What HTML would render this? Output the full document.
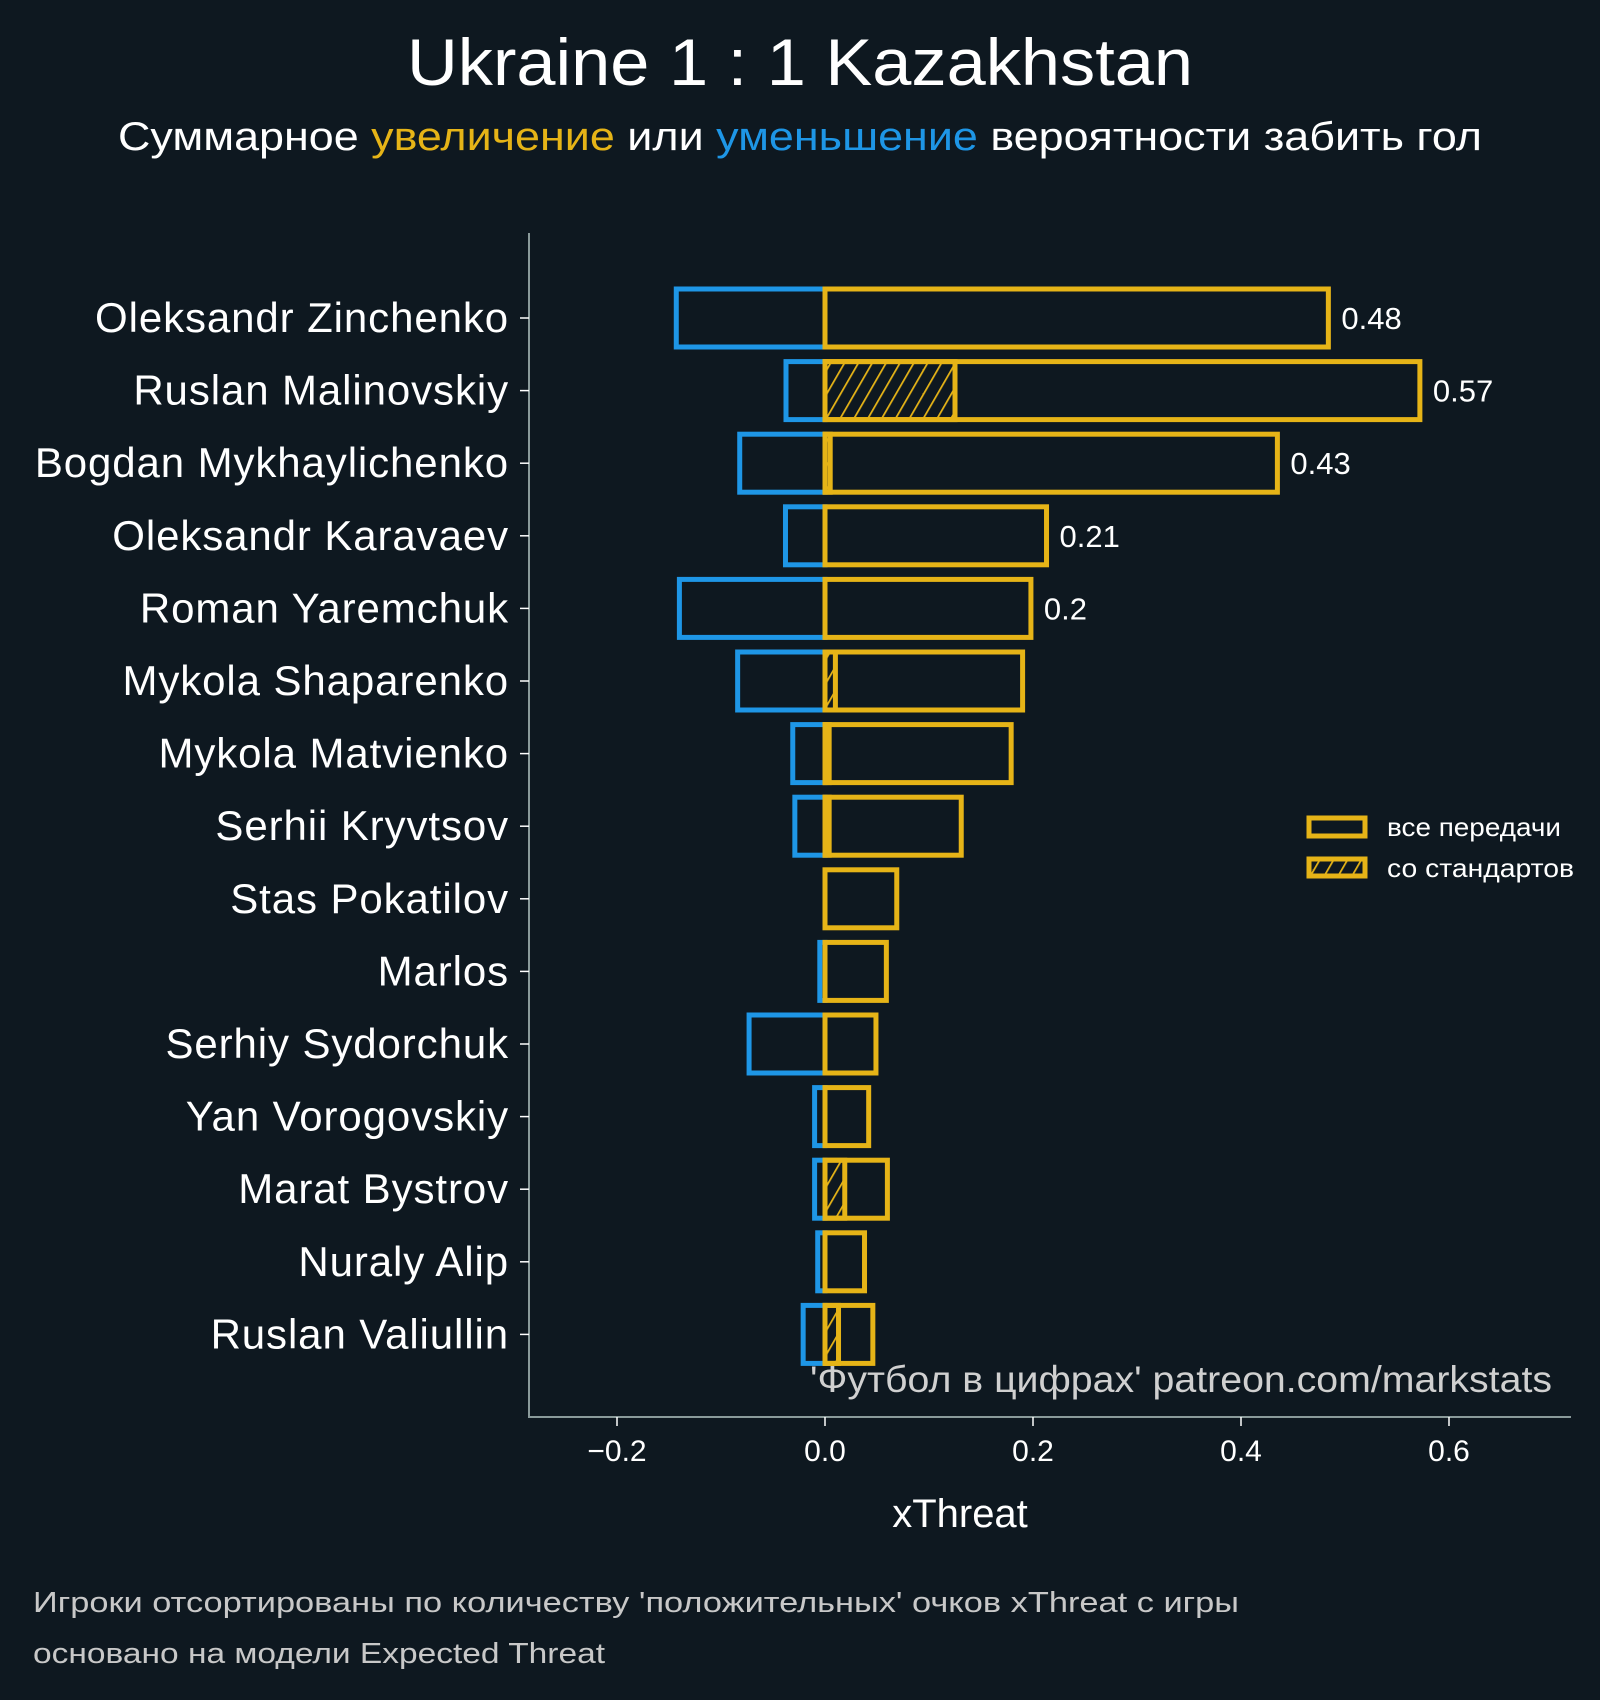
<!DOCTYPE html>
<html><head><meta charset="utf-8"><style>
html,body{margin:0;padding:0;background:#0e1820;}
svg{display:block;font-family:"Liberation Sans","DejaVu Sans",sans-serif;}
</style></head><body>
<svg id="chart" width="1600" height="1700" viewBox="0 0 1600 1700" xmlns="http://www.w3.org/2000/svg">
<defs>
<pattern id="hatch" patternUnits="userSpaceOnUse" width="12" height="12" patternTransform="rotate(30)">
<rect width="12" height="12" fill="#0e1820"/>
<line x1="0" y1="0" x2="0" y2="12" stroke="#e6b417" stroke-width="3.5"/>
</pattern>
</defs>
<rect width="1600" height="1700" fill="#0e1820"/>
<text x="800" y="85" text-anchor="middle" font-size="66" fill="#fff" textLength="786" lengthAdjust="spacingAndGlyphs">Ukraine 1 : 1 Kazakhstan</text>
<text x="800" y="150" text-anchor="middle" font-size="40" fill="#fff" textLength="1364" lengthAdjust="spacingAndGlyphs">Суммарное <tspan fill="#e6b417">увеличение</tspan> или <tspan fill="#1e96e6">уменьшение</tspan> вероятности забить гол</text>
<g id="plot"></g>
<text x="810" y="1392" font-size="37" fill="#d0d0d0" textLength="742" lengthAdjust="spacingAndGlyphs">'Футбол в цифрах' patreon.com/markstats</text>
<text x="960" y="1527" text-anchor="middle" font-size="40" fill="#fff">xThreat</text>
<text x="33" y="1612" font-size="29" fill="#c8c8c8" textLength="1206" lengthAdjust="spacingAndGlyphs">Игроки отсортированы по количеству 'положительных' очков xThreat с игры</text>
<text x="33" y="1663" font-size="29" fill="#c8c8c8" textLength="572" lengthAdjust="spacingAndGlyphs">основано на модели Expected Threat</text>
<g>
<rect x="1309" y="818" width="56" height="18" fill="none" stroke="#e6b417" stroke-width="5"/>
<text x="1387" y="836" font-size="26" fill="#fff" textLength="174" lengthAdjust="spacingAndGlyphs">все передачи</text>
<rect x="1309" y="859" width="56" height="17" fill="url(#hatch)" stroke="#e6b417" stroke-width="5"/>
<text x="1387" y="877" font-size="26" fill="#fff" textLength="187" lengthAdjust="spacingAndGlyphs">со стандартов</text>
</g>
</svg>
<script>
const players = ["Oleksandr Zinchenko","Ruslan Malinovskiy","Bogdan Mykhaylichenko","Oleksandr Karavaev","Roman Yaremchuk","Mykola Shaparenko","Mykola Matvienko","Serhii Kryvtsov","Stas Pokatilov","Marlos","Serhiy Sydorchuk","Yan Vorogovskiy","Marat Bystrov","Nuraly Alip","Ruslan Valiullin"];
const positiveXT = [0.484,0.572,0.435,0.213,0.198,0.19,0.179,0.131,0.069,0.059,0.049,0.042,0.06,0.038,0.046];
const negativeXT = [-0.143,-0.0375,-0.082,-0.038,-0.14,-0.084,-0.031,-0.029,0,-0.005,-0.073,-0.01,-0.01,-0.007,-0.021];
const setPieceXT = [0,0.125,0.005,0,0,0.01,0.004,0.004,0,0,0,0,0.019,0,0.013];
const valueLabels = ["0.48","0.57","0.43","0.21","0.2","","","","","","","","","",""];
const xTicks = [-0.2,0,0.2,0.4,0.6];
const xTickLabels = ["\u22120.2","0.0","0.2","0.4","0.6"];

const NS="http://www.w3.org/2000/svg";
const g=document.getElementById('plot');
const X=v=>825+v*1040;
const Y=i=>318+i*72.6;
const BH=58;
function mk(t,a){const e=document.createElementNS(NS,t);for(const k in a)e.setAttribute(k,a[k]);g.appendChild(e);return e;}
let s=mk('line',{x1:529,y1:233,x2:529,y2:1417,stroke:'#8a9a9a','stroke-width':2});


s=mk('line',{x1:528,y1:1417,x2:1571,y2:1417,stroke:'#8a9a9a','stroke-width':2});


xTicks.forEach((v,i)=>{
 const t=mk('line',{x1:X(v),y1:1417,x2:X(v),y2:1426,stroke:'#fff','stroke-width':1.5});
 
 
 const l=mk('text',{x:X(v),y:1461,'text-anchor':'middle','font-size':30,fill:'#fff'});
 l.textContent=xTickLabels[i];
 
 
});
players.forEach((p,i)=>{
 const y=Y(i);
 const tk=mk('line',{x1:520,y1:y,x2:529,y2:y,stroke:'#fff','stroke-width':1.5});
 
 
 const lb=mk('text',{x:509,y:y+14,'text-anchor':'end','font-size':42,fill:'#fff','letter-spacing':'0.9'});
 lb.textContent=p;
 
 
 if(negativeXT[i]<0){
  const r=mk('rect',{x:X(negativeXT[i]),y:y-BH/2,width:X(0)-X(negativeXT[i]),height:BH,fill:'none',stroke:'#1e96e6','stroke-width':5});
  
  
 }
 if(setPieceXT[i]>0){
  const h=mk('rect',{x:X(0),y:y-BH/2,width:X(setPieceXT[i])-X(0),height:BH,fill:'url(#hatch)',stroke:'#e6b417','stroke-width':5});
  
  
 }
 const b=mk('rect',{x:X(0),y:y-BH/2,width:X(positiveXT[i])-X(0),height:BH,fill:'none',stroke:'#e6b417','stroke-width':5});
 
 
 if(valueLabels[i]){
  const v=mk('text',{x:X(positiveXT[i])+13,y:y+11,'font-size':31,fill:'#fff'});
  v.textContent=valueLabels[i];
  
  
 }
});
</script>
</body></html>
